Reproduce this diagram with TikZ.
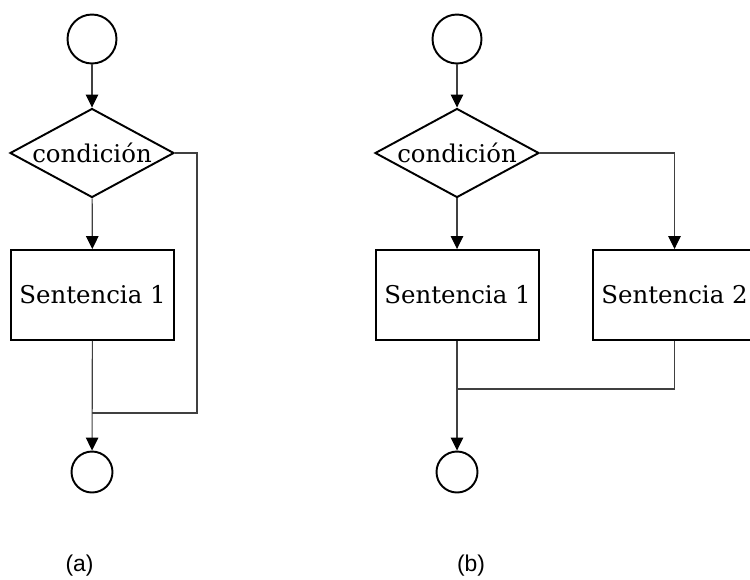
\documentclass[tikz,border=0pt]{standalone}
\usepackage{fontspec}
\setmainfont{DejaVu Serif}
\newfontfamily\labelfont{Liberation Sans}
\usetikzlibrary{shapes.geometric,arrows.meta}
\begin{document}
\begin{tikzpicture}[x=0.02cm,y=-0.02cm,
  shapeline/.style={draw=black,line width=1.1pt},
  startnode/.style={shapeline,circle,minimum size=0.98cm,inner sep=0pt},
  endnode/.style={shapeline,circle,minimum size=0.82cm,inner sep=0pt},
  decision/.style={shapeline,diamond,minimum width=3.28cm,minimum height=1.78cm,inner sep=0pt,font=\fontsize{13.9}{16}\selectfont},
  stmt/.style={shapeline,rectangle,minimum width=3.26cm,minimum height=1.8cm,inner sep=0pt,font=\fontsize{13.9}{16}\selectfont},
  link/.style={draw=black!75,line width=0.65pt},
  flow/.style={link,-{Triangle[length=0.26cm,width=0.25cm,color=black]}},
  caption/.style={font=\labelfont\fontsize{13}{15}\selectfont}]
\useasboundingbox (0,0) rectangle (750,579);

% (a) single-branch selection
\node[startnode] (s1) at (92,39) {};
\node[decision] (c1) at (92,153) {\makebox[0pt]{condición}};
\node[stmt] (r1) at (92.5,295) {\makebox[0pt]{Sentencia 1}};
\node[endnode] (e1) at (92,472) {};
\coordinate (m1) at (92,413);
\draw[flow] (s1) -- (c1);
\draw[flow] (c1) -- (r1);
\draw[flow] (r1) -- (e1);
\draw[link] (c1.east) -- ++(22,0) |- (m1);
\node[caption] (la) at (79.5,566) {(a)};

% (b) two-branch selection
\node[startnode] (s2) at (457,39) {};
\node[decision] (c2) at (457,153) {\makebox[0pt]{condición}};
\node[stmt] (r1b) at (457.5,295) {\makebox[0pt]{Sentencia 1}};
\node[stmt] (r2b) at (674.5,295) {\makebox[0pt]{Sentencia 2}};
\node[endnode] (e2) at (457,472) {};
\coordinate (m2) at (457,389);
\draw[flow] (s2) -- (c2);
\draw[flow] (c2) -- (c2 |- r1b.north);
\draw[flow] (c2.east) -| (r2b);
\draw[flow] (c2 |- r1b.south) -- (e2);
\draw[link] (r2b.south) |- (m2);
\node[caption] (lb) at (471,566) {(b)};
\end{tikzpicture}
\end{document}
